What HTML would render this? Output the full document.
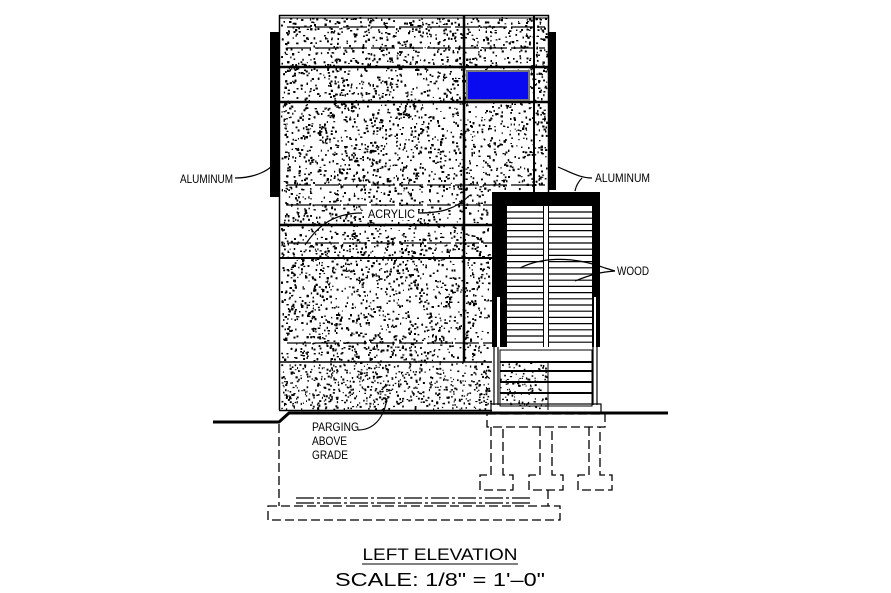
<!DOCTYPE html>
<html><head><meta charset="utf-8"><style>
html,body{margin:0;padding:0;background:#fff;}
svg{display:block;}
text{font-family:"Liberation Sans",sans-serif;fill:#000;}
</style></head><body>
<svg id="s" width="891" height="593" viewBox="0 0 891 593" xmlns="http://www.w3.org/2000/svg">
<rect width="891" height="593" fill="#fff"/>
<g id="dots" fill="#000"></g>
<g stroke="#000" fill="none">
  <polyline points="279.5,410 279.5,15.5 548.5,15.5 548.5,192" stroke-width="1.5"/>
  <line x1="279" y1="410.5" x2="492" y2="410.5" stroke-width="1.5"/>
  <line x1="279" y1="18" x2="548" y2="18" stroke-width="1"/>
  <line x1="279" y1="67" x2="548" y2="67" stroke-width="2.5"/>
  <line x1="279" y1="102" x2="548" y2="102" stroke-width="2.5"/>
  <line x1="279" y1="225" x2="492" y2="225" stroke-width="2.5"/>
  <line x1="279" y1="258" x2="492" y2="258" stroke-width="2"/>
  <line x1="279" y1="362" x2="492" y2="362" stroke-width="1.5"/>
  <g stroke-width="1.2" stroke-dasharray="24,4">
    <line x1="287" y1="27" x2="545" y2="27"/>
    <line x1="287" y1="48" x2="545" y2="48"/>
    <line x1="287" y1="185" x2="545" y2="185"/>
    <line x1="287" y1="205" x2="492" y2="205"/>
    <line x1="287" y1="243" x2="492" y2="243"/>
    <line x1="287" y1="343" x2="492" y2="343"/>
  </g>
  <line x1="464" y1="15" x2="464" y2="362" stroke-width="2.5"/>
  <line x1="534" y1="15" x2="534" y2="192" stroke-width="2"/>
</g>
<rect x="466" y="70" width="64" height="31" fill="#777"/>
<rect x="468" y="72" width="60" height="27" fill="#0a0af0"/>
<rect x="270" y="32" width="9" height="165" fill="#000"/>
<rect x="548" y="32" width="8" height="158" fill="#000"/>
<rect x="492" y="192" width="108" height="155" fill="#000"/>
<rect x="507" y="206" width="85" height="141" fill="#fff"/>
<g id="slats" stroke="#000" stroke-width="1.2"></g>
<rect x="543" y="206" width="6" height="141" fill="#fff"/>
<line x1="543.5" y1="206" x2="543.5" y2="347" stroke="#000" stroke-width="1"/>
<line x1="548.5" y1="206" x2="548.5" y2="347" stroke="#000" stroke-width="1"/>
<rect x="497" y="297" width="3" height="50" fill="#fff"/>
<rect x="594" y="297" width="2" height="50" fill="#fff"/>
<g stroke="#000" fill="none">
  <rect x="500" y="350" width="92" height="56" fill="none" stroke-width="1"/>
  <line x1="500" y1="362" x2="592" y2="362" stroke-width="2"/>
  <line x1="500" y1="371" x2="592" y2="371" stroke-width="2"/>
  <line x1="500" y1="382" x2="592" y2="382" stroke-width="2"/>
  <line x1="500" y1="393" x2="592" y2="393" stroke-width="2"/>
  <line x1="548" y1="362" x2="548" y2="410" stroke-width="1"/>
  <line x1="494" y1="347" x2="494" y2="405" stroke-width="1.2"/>
  <line x1="498" y1="347" x2="498" y2="405" stroke-width="1.2"/>
  <line x1="593" y1="347" x2="593" y2="405" stroke-width="1.2"/>
  <line x1="597" y1="347" x2="597" y2="405" stroke-width="1.2"/>
  <rect x="491" y="404" width="110" height="9" stroke-width="1.2"/>
</g>
<polyline points="213,422 279,422 289,413 668,413" fill="none" stroke="#000" stroke-width="3"/>
<g stroke="#000" fill="none" stroke-width="1.3" stroke-dasharray="9,4">
  <line x1="279" y1="424" x2="279" y2="506"/>
  <rect x="268" y="506" width="292" height="14"/>
  <rect x="487" y="414" width="118" height="13"/>
  <polyline points="491,427 491,475 480,475 480,490 513,490 513,475 503,475 503,427"/>
  <polyline points="540,427 540,475 529,475 529,490 563,490 563,475 552,475 552,427"/>
  <line x1="548" y1="490" x2="548" y2="506"/>
  <polyline points="589,427 589,475 578,475 578,490 612,490 612,475 600,475 600,427"/>
</g>
<g stroke="#000" stroke-width="1.2" stroke-dasharray="18,3,3,3">
  <line x1="296" y1="498" x2="533" y2="498"/>
  <line x1="296" y1="503" x2="533" y2="503"/>
</g>
<g stroke="#000" fill="none" stroke-width="1.2">
  <path d="M235,178 C255,178 272,170 276,160"/>
  <path d="M558,167 C570,172 580,178 592,178"/>
  <path d="M582,178 C578,182 576,186 575,191"/>
  <path d="M362,213 C330,213 315,230 305,245"/>
  <path d="M418,213 C440,213 455,210 470,195"/>
  <path d="M520,268 C540,258 570,255 605,268 L615,271"/>
  <path d="M575,281 C590,275 600,272 615,271"/>
  <path d="M358,430 C372,430 384,420 387,398"/>
</g>
<rect x="364" y="206" width="54" height="14" fill="#fff"/>
<g font-size="12">
  <text x="180" y="183" textLength="53" lengthAdjust="spacingAndGlyphs">ALUMINUM</text>
  <text x="595" y="182" textLength="55" lengthAdjust="spacingAndGlyphs">ALUMINUM</text>
  <text x="368" y="218" textLength="47" lengthAdjust="spacingAndGlyphs">ACRYLIC</text>
  <text x="617" y="275" textLength="32" lengthAdjust="spacingAndGlyphs">WOOD</text>
  <text x="312" y="431" textLength="47" lengthAdjust="spacingAndGlyphs">PARGING</text>
  <text x="312" y="445" textLength="35" lengthAdjust="spacingAndGlyphs">ABOVE</text>
  <text x="312" y="459" textLength="36" lengthAdjust="spacingAndGlyphs">GRADE</text>
</g>
<text x="440" y="560" font-size="17" text-anchor="middle" textLength="155" lengthAdjust="spacingAndGlyphs">LEFT ELEVATION</text>
<line x1="362" y1="564" x2="518" y2="564" stroke="#000" stroke-width="1"/>
<text x="440" y="586" font-size="18" text-anchor="middle" textLength="210" lengthAdjust="spacingAndGlyphs">SCALE:  1/8"  =  1'–0"</text>
</svg>
<script>
(function(){
var seed=12345;function r(){seed=(seed*1103515245+12345)&0x7fffffff;return seed/0x7fffffff;}
var g=document.getElementById('dots');var out=[];
function fill(x0,y0,w,h,n,ex){for(var i=0;i<n;i++){var x=x0+r()*w,y=y0+r()*h;
 if(ex&&x>ex[0]&&x<ex[2]&&y>ex[1]&&y<ex[3])continue;
 var a=(1+r()*1.2).toFixed(1),b=(1+r()*1.2).toFixed(1);
 out.push('<rect x="'+x.toFixed(1)+'" y="'+y.toFixed(1)+'" width="'+a+'" height="'+b+'"/>');}}
fill(281,17,266,345,13000,[490,188,560,362]);
fill(281,363,209,46,650);
fill(500,363,47,45,110);
g.innerHTML=out.join('');
var sl=document.getElementById('slats');var s=[];
for(var y=212;y<345;y+=6.2){s.push('<line x1="507" y1="'+y.toFixed(1)+'" x2="592" y2="'+y.toFixed(1)+'"/>');}
sl.innerHTML=s.join('');
})();
</script>
</body></html>
